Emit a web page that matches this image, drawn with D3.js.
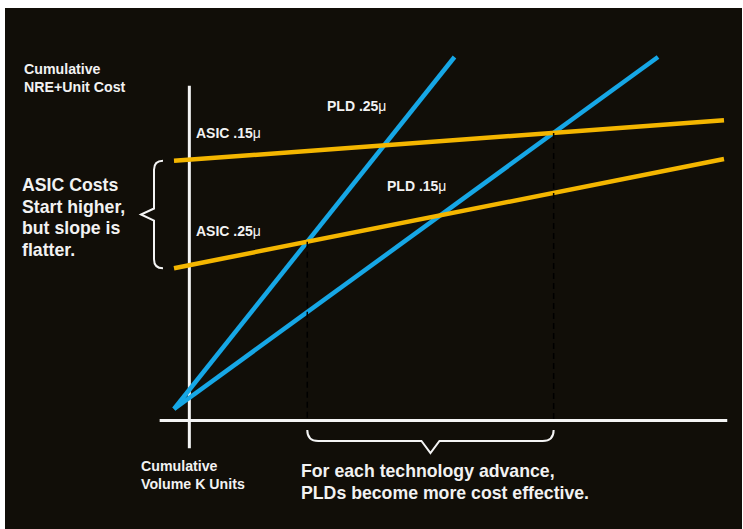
<!DOCTYPE html>
<html>
<head>
<meta charset="utf-8">
<script src="https://cdn.jsdelivr.net/npm/d3@7/dist/d3.min.js"></script>
<style>
  html, body { margin: 0; padding: 0; background: #ffffff; }
  svg { display: block; }
  text { font-family: "Liberation Sans", Arial, Helvetica, sans-serif; font-weight: bold; fill: #f2f2f2; }
</style>
</head>
<body>
<script>
// Cumulative cost model: each technology is a straight line (NRE at zero volume, then unit cost slope)
const seriesNames = ["PLD .25", "PLD .15", "ASIC .15", "ASIC .25"];
const seriesKind  = ["pld", "pld", "asic", "asic"];
const volumeStart = [0, 0, 0, 0];
const volumeEnd   = [51, 88, 100, 100];
const costStart   = [0, 0, 70.5, 40];
const costEnd     = [100, 100, 82, 71];

// crossover pairs (PLD index, ASIC index) marked with dashed guides
const crossPairs = [[0, 3], [1, 2]];

const W = 743, H = 529;
const svg = d3.select("body").append("svg").attr("width", W).attr("height", H);

// dark slide panel
svg.append("rect").attr("x", 5).attr("y", 8).attr("width", 737).attr("height", 521).attr("fill", "#110e08");

const x = d3.scaleLinear().domain([0, 100]).range([174, 724]);
const y = d3.scaleLinear().domain([0, 100]).range([409, 57]);

const colors = { pld: "#16a7e6", asic: "#f4b600" };

// axes: plain crosshair lines without ticks
const xAxisScale = d3.scaleLinear().domain([-2.7, 100.5]).range([x(-2.7), x(100.5)]);
const yAxisScale = d3.scaleLinear().domain([-11, 92]).range([y(-11), y(92)]);
const axisX0 = 2.7;   // volume where the cost axis stands
const axisY0 = -3.1;  // cost where the volume axis lies

svg.append("g")
  .attr("transform", `translate(0,${y(axisY0)})`)
  .call(d3.axisBottom(xAxisScale).tickValues([]).tickSizeOuter(0))
  .call(g => g.select(".domain").attr("stroke", "#f4f4f4").attr("stroke-width", 3));

svg.append("g")
  .attr("transform", `translate(${x(axisX0)},0)`)
  .call(d3.axisLeft(yAxisScale).tickValues([]).tickSizeOuter(0))
  .call(g => g.select(".domain").attr("stroke", "#f4f4f4").attr("stroke-width", 3));

// cost lines
const lines = seriesNames.map((name, i) => ({
  name, kind: seriesKind[i],
  pts: [[volumeStart[i], costStart[i]], [volumeEnd[i], costEnd[i]]]
}));
const lineGen = d3.line().x(d => x(d[0])).y(d => y(d[1]));

svg.append("g").selectAll("path").data(lines).join("path")
  .attr("d", d => lineGen(d.pts))
  .attr("fill", "none")
  .attr("stroke", d => colors[d.kind])
  .attr("stroke-width", 4.5);

// crossover points
function slope(i) { return (costEnd[i] - costStart[i]) / (volumeEnd[i] - volumeStart[i]); }
const crossings = crossPairs.map(([p, a]) => {
  const v = (costStart[a] - costStart[p]) / (slope(p) - slope(a));
  return { v, c: costStart[p] + slope(p) * v };
});

svg.append("g").selectAll("line").data(crossings).join("line")
  .attr("x1", d => x(d.v)).attr("x2", d => x(d.v))
  .attr("y1", d => y(d.c)).attr("y2", y(axisY0))
  .attr("stroke", "#000").attr("stroke-width", 1.5).attr("stroke-dasharray", "6,4");

// brace under the volume axis spanning the two crossovers
{
  const x1 = x(crossings[0].v), x2 = x(crossings[1].v), mid = (x1 + x2) / 2;
  const top = 430, bar = 441, tip = 453;
  svg.append("path")
    .attr("d", `M${x1},${top} Q${x1},${bar} ${x1 + 11},${bar} H${mid - 9} L${mid},${tip} L${mid + 9},${bar} H${x2 - 11} Q${x2},${bar} ${x2},${top}`)
    .attr("fill", "none").attr("stroke", "#f4f4f4").attr("stroke-width", 2);
}

// brace left of the ASIC starting costs
{
  const yt = y(costStart[2]), yb = y(costStart[3]), ym = (yt + yb) / 2;
  const xe = 163, xv = 154, xt = 141;
  svg.append("path")
    .attr("d", `M${xe},${yt} Q${xv},${yt} ${xv},${yt + 9} V${ym - 6} L${xt},${ym} L${xv},${ym + 6} V${yb - 9} Q${xv},${yb} ${xe},${yb}`)
    .attr("fill", "none").attr("stroke", "#f4f4f4").attr("stroke-width", 2);
}

// text helpers
function label(px, py, str, size, micro) {
  const t = svg.append("text").attr("x", px).attr("y", py).style("font-size", size + "px");
  t.append("tspan").text(str);
  if (micro) t.append("tspan").style("font-weight", "normal").text("\u03bc");
  return t;
}
function block(px, py, linesArr, size, gap) {
  linesArr.forEach((s, i) => label(px, py + i * gap, s, size, false));
}

// line labels
label(196, 138, "ASIC .15", 14, true);
label(327, 111, "PLD .25", 14, true);
label(387, 191, "PLD .15", 14, true);
label(196, 236, "ASIC .25", 14, true);

// axis titles
block(24, 74, ["Cumulative", "NRE+Unit Cost"], 14.2, 18);
block(141, 471, ["Cumulative", "Volume K Units"], 14.2, 18);

// annotations
block(22, 191, ["ASIC Costs", "Start higher,", "but slope is", "flatter."], 17.7, 21.5);
block(301, 477, ["For each technology advance,", "PLDs become more cost effective."], 17.7, 22);
</script>
</body>
</html>
